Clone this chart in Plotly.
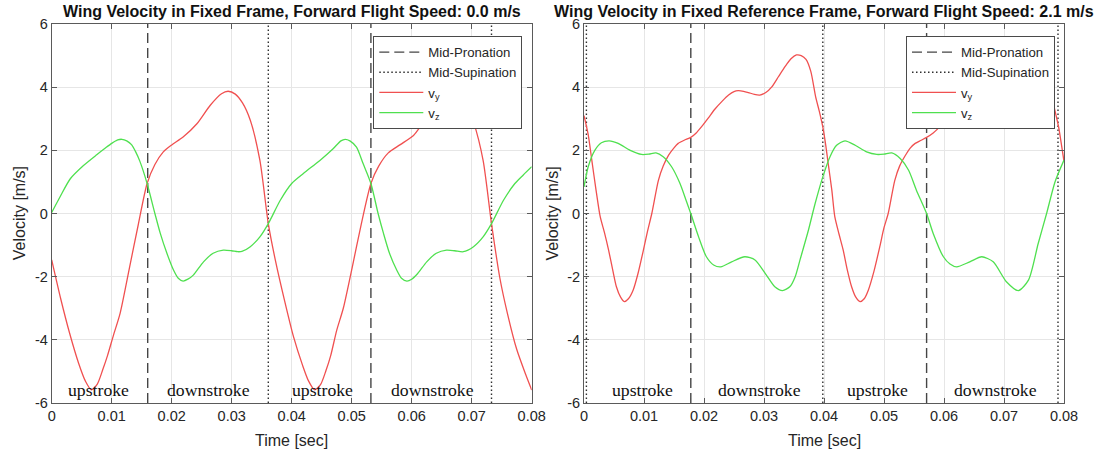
import plotly.graph_objects as go

W, H = 1102, 455

# ---------------- stroke reversal times [s] ----------------
pron_L = [0.0160, 0.0532]
sup_L = [0.0361, 0.0733]
pron_R = [0.0178, 0.0571]
sup_R = [0.0004, 0.0398, 0.0790]

# ---------------- hovering flight (0.0 m/s) ----------------
t_vy_L = [0.0000, 0.0015, 0.0030, 0.0045, 0.0056, 0.0066, 0.0076, 0.0085, 0.0093, 0.0103,
          0.0114, 0.0130, 0.0144, 0.0159, 0.0172, 0.0186, 0.0200, 0.0219, 0.0242, 0.0264,
          0.0283, 0.0294, 0.0306, 0.0318, 0.0331, 0.0347, 0.0361, 0.0373, 0.0388, 0.0403,
          0.0418, 0.0428, 0.0438, 0.0448, 0.0457, 0.0465, 0.0475, 0.0486, 0.0502, 0.0515,
          0.0532, 0.0545, 0.0561, 0.0581, 0.0603, 0.0614, 0.0636, 0.0655, 0.0666, 0.0678,
          0.0690, 0.0703, 0.0719, 0.0733, 0.0747, 0.0760, 0.0775, 0.0790, 0.0800]
vy_L = [-1.47, -2.70, -3.80, -4.75, -5.30, -5.58, -5.40, -4.95, -4.50, -3.85,
        -3.16, -1.68, -0.38, 0.95, 1.55, 1.95, 2.17, 2.42, 2.84, 3.42,
        3.79, 3.87, 3.78, 3.50, 2.95, 1.68, -0.32, -1.50, -2.75, -3.90,
        -4.80, -5.30, -5.58, -5.42, -4.98, -4.50, -3.70, -3.00, -1.60, -0.42,
        0.95, 1.50, 1.92, 2.18, 2.47, 2.74, 3.42, 3.79, 3.87, 3.78,
        3.50, 2.90, 1.68, -0.32, -2.05, -3.20, -4.30, -5.10, -5.59]

t_vz_L = [0.0000, 0.0014, 0.0031, 0.0053, 0.0075, 0.0090, 0.0100, 0.0110, 0.0117, 0.0125,
          0.0133, 0.0140, 0.0147, 0.0159, 0.0172, 0.0181, 0.0192, 0.0203, 0.0211, 0.0219,
          0.0227, 0.0236, 0.0253, 0.0269, 0.0286, 0.0300, 0.0310, 0.0317, 0.0331, 0.0347,
          0.0361, 0.0381, 0.0400, 0.0419, 0.0447, 0.0469, 0.0482, 0.0489, 0.0497, 0.0508,
          0.0519, 0.0532, 0.0544, 0.0553, 0.0563, 0.0575, 0.0583, 0.0592, 0.0600, 0.0610,
          0.0625, 0.0641, 0.0658, 0.0672, 0.0686, 0.0703, 0.0719, 0.0733, 0.0753, 0.0772,
          0.0786, 0.0800]
vz_L = [0.03, 0.53, 1.10, 1.52, 1.86, 2.08, 2.22, 2.33, 2.35, 2.30,
        2.18, 1.95, 1.65, 0.95, 0.00, -0.63, -1.26, -1.79, -2.05, -2.14,
        -2.08, -1.95, -1.53, -1.26, -1.16, -1.18, -1.21, -1.20, -1.05, -0.74,
        -0.32, 0.42, 0.95, 1.26, 1.68, 2.05, 2.30, 2.35, 2.30, 2.10,
        1.58, 0.95, 0.00, -0.63, -1.26, -1.79, -2.05, -2.14, -2.08, -1.90,
        -1.53, -1.26, -1.16, -1.18, -1.21, -1.05, -0.74, -0.32, 0.42, 0.95,
        1.22, 1.48]

# ---------------- forward flight (2.1 m/s) ----------------
t_vy_R = [0.0000, 0.0007, 0.0013, 0.0020, 0.0027, 0.0034, 0.0041, 0.0048, 0.0054, 0.0061,
          0.0067, 0.0074, 0.0082, 0.0090, 0.0099, 0.0106, 0.0113, 0.0124, 0.0132, 0.0141,
          0.0150, 0.0157, 0.0167, 0.0178, 0.0187, 0.0196, 0.0207, 0.0218, 0.0230, 0.0241,
          0.0250, 0.0257, 0.0266, 0.0274, 0.0284, 0.0293, 0.0303, 0.0313, 0.0324, 0.0335,
          0.0345, 0.0354, 0.0362, 0.0370, 0.0378, 0.0386, 0.0392, 0.0398, 0.0403, 0.0407,
          0.0413, 0.0418, 0.0425, 0.0432, 0.0439, 0.0446, 0.0453, 0.0460, 0.0467, 0.0474,
          0.0483, 0.0493, 0.0500, 0.0507, 0.0518, 0.0526, 0.0535, 0.0544, 0.0552, 0.0562,
          0.0571, 0.0582, 0.0593, 0.0604, 0.0611, 0.0623, 0.0634, 0.0643, 0.0650, 0.0659,
          0.0667, 0.0677, 0.0686, 0.0696, 0.0706, 0.0717, 0.0728, 0.0738, 0.0747, 0.0755,
          0.0763, 0.0771, 0.0779, 0.0785, 0.0791, 0.0796, 0.0800]
vy_R = [3.10, 2.50, 1.69, 0.75, -0.10, -0.60, -1.16, -1.80, -2.32, -2.65,
        -2.79, -2.70, -2.42, -1.90, -1.16, -0.55, 0.00, 1.05, 1.50, 1.85,
        2.08, 2.22, 2.32, 2.41, 2.55, 2.75, 3.02, 3.30, 3.55, 3.75,
        3.86, 3.89, 3.87, 3.83, 3.77, 3.75, 3.83, 4.01, 4.33, 4.65,
        4.90, 5.02, 5.00, 4.88, 4.50, 3.70, 3.25, 2.74, 2.15, 1.58,
        0.75, -0.10, -0.65, -1.16, -1.80, -2.32, -2.65, -2.79, -2.70, -2.42,
        -1.85, -1.05, -0.45, 0.00, 1.05, 1.50, 1.82, 2.08, 2.22, 2.32,
        2.41, 2.55, 2.75, 3.02, 3.30, 3.55, 3.75, 3.86, 3.89, 3.87,
        3.83, 3.77, 3.75, 3.83, 4.01, 4.33, 4.65, 4.90, 5.02, 5.00,
        4.88, 4.50, 3.75, 3.25, 2.74, 2.15, 1.65]

t_vz_R = [0.0000, 0.0007, 0.0018, 0.0029, 0.0042, 0.0057, 0.0077, 0.0096, 0.0108, 0.0120,
          0.0132, 0.0146, 0.0160, 0.0171, 0.0178, 0.0191, 0.0204, 0.0216, 0.0228, 0.0246,
          0.0268, 0.0285, 0.0304, 0.0318, 0.0331, 0.0343, 0.0352, 0.0360, 0.0374, 0.0385,
          0.0398, 0.0410, 0.0421, 0.0435, 0.0452, 0.0471, 0.0488, 0.0500, 0.0513, 0.0527,
          0.0541, 0.0554, 0.0571, 0.0582, 0.0599, 0.0610, 0.0621, 0.0643, 0.0663, 0.0682,
          0.0704, 0.0724, 0.0741, 0.0757, 0.0771, 0.0785, 0.0800]
vz_R = [0.84, 1.48, 2.00, 2.24, 2.30, 2.22, 2.00, 1.87, 1.88, 1.92,
        1.80, 1.48, 0.95, 0.37, 0.00, -0.74, -1.37, -1.63, -1.69, -1.53,
        -1.37, -1.47, -1.95, -2.32, -2.44, -2.32, -2.00, -1.47, -0.53, 0.30,
        1.16, 1.80, 2.16, 2.30, 2.16, 1.95, 1.87, 1.88, 1.92, 1.74,
        1.37, 0.74, 0.00, -0.63, -1.37, -1.60, -1.69, -1.53, -1.37, -1.53,
        -2.16, -2.44, -2.10, -0.95, 0.00, 1.00, 1.69]

# ---------------- phase labels ----------------
stroke_names = ["upstroke", "downstroke", "upstroke", "downstroke"]
stroke_t_L = [0.0078, 0.0262, 0.0451, 0.0635]
stroke_t_R = [0.0098, 0.0293, 0.0489, 0.0685]
stroke_v = -5.6

# ---------------- axes ----------------
x_ticks = [0, 0.01, 0.02, 0.03, 0.04, 0.05, 0.06, 0.07, 0.08]
x_ticktext = ["0", "0.01", "0.02", "0.03", "0.04", "0.05", "0.06", "0.07", "0.08"]
y_ticks = [-6, -4, -2, 0, 2, 4, 6]
y_ticktext = ["-6", "-4", "-2", "0", "2", "4", "6"]

titles = ["Wing Velocity in Fixed Frame, Forward Flight Speed: 0.0 m/s",
          "Wing Velocity in Fixed Reference Frame, Forward Flight Speed: 2.1 m/s"]

# plot-area placement in pixels
left_px = [(51.7, 531.7), (584.0, 1064.0)]
top_px, bottom_px = 24.0, 403.0

SANS = "Liberation Sans, Arial, sans-serif"
SERIF = "Liberation Serif, Times New Roman, serif"
RED = "#f05050"
GREEN = "#4fe04f"


def px_x(p):
    return p / W


def px_y(p):
    return 1 - p / H


def vlines(times):
    xs, ys = [], []
    for t in times:
        xs += [t, t, None]
        ys += [-6, 6, None]
    return xs, ys


fig = go.Figure()

panels = [
    (pron_L, sup_L, t_vy_L, vy_L, t_vz_L, vz_L, "x", "y", "legend"),
    (pron_R, sup_R, t_vy_R, vy_R, t_vz_R, vz_R, "x2", "y2", "legend2"),
]

for pron, sup, tvy, vy, tvz, vz, xa, ya, lg in panels:
    xs, ys = vlines(pron)
    fig.add_trace(go.Scatter(x=xs, y=ys, mode="lines", name="Mid-Pronation",
                             line=dict(color="#454545", width=1.4, dash="10px,5px"),
                             xaxis=xa, yaxis=ya, legend=lg, hoverinfo="skip"))
    xs, ys = vlines(sup)
    fig.add_trace(go.Scatter(x=xs, y=ys, mode="lines", name="Mid-Supination",
                             line=dict(color="#303030", width=1.4, dash="1.5px,2.5px"),
                             xaxis=xa, yaxis=ya, legend=lg, hoverinfo="skip"))
    fig.add_trace(go.Scatter(x=tvy, y=vy, mode="lines", name="v<sub>y</sub>",
                             line=dict(color=RED, width=1.3, shape="spline", smoothing=0.7),
                             xaxis=xa, yaxis=ya, legend=lg))
    fig.add_trace(go.Scatter(x=tvz, y=vz, mode="lines", name="v<sub>z</sub>",
                             line=dict(color=GREEN, width=1.3, shape="spline", smoothing=0.7),
                             xaxis=xa, yaxis=ya, legend=lg))

axis_common = dict(showline=True, linecolor="#5a5a5a", linewidth=1, mirror="ticks",
                   ticks="inside", ticklen=5, tickcolor="#5a5a5a", showgrid=True,
                   gridcolor="#e6e6e6", gridwidth=1, zeroline=False,
                   tickfont=dict(family=SANS, size=14.5, color="#262626"))

y_dom = [px_y(bottom_px), px_y(top_px)]
for i, (l, r) in enumerate(left_px):
    sfx = "" if i == 0 else "2"
    fig.layout["xaxis" + sfx] = dict(axis_common, domain=[px_x(l), px_x(r)], range=[0, 0.08],
                                     tickvals=x_ticks, ticktext=x_ticktext,
                                     anchor="y" + sfx, automargin=False)
    fig.layout["yaxis" + sfx] = dict(axis_common, domain=y_dom, range=[-6, 6],
                                     tickvals=y_ticks, ticktext=y_ticktext,
                                     anchor="x" + sfx, automargin=False)

legend_common = dict(xanchor="left", yanchor="top", bgcolor="white",
                     bordercolor="#4a4a4a", borderwidth=1, tracegroupgap=0,
                     itemwidth=44,
                     font=dict(family=SANS, size=13.2, color="#262626"))
fig.update_layout(
    width=W, height=H, autosize=False,
    margin=dict(l=0, r=0, t=0, b=0),
    paper_bgcolor="white", plot_bgcolor="white",
    showlegend=True,
    legend=dict(legend_common, x=px_x(373.3), y=px_y(36)),
    legend2=dict(legend_common, x=px_x(906), y=px_y(36)),
)

annotations = []
for i, (l, r) in enumerate(left_px):
    xa = "x" if i == 0 else "x2"
    ya = "y" if i == 0 else "y2"
    cx = (l + r) / 2
    annotations.append(dict(text="<b>" + titles[i] + "</b>", xref="paper", yref="paper",
                            x=px_x(cx), y=px_y(11), xanchor="center", yanchor="middle",
                            showarrow=False, font=dict(family=SANS, size=16, color="#111111")))
    annotations.append(dict(text="Time [sec]", xref="paper", yref="paper",
                            x=px_x(cx), y=px_y(440), xanchor="center", yanchor="middle",
                            showarrow=False, font=dict(family=SANS, size=16, color="#262626")))
    annotations.append(dict(text="Velocity [m/s]", xref="paper", yref="paper",
                            x=px_x(l - 32), y=px_y((top_px + bottom_px) / 2), textangle=-90,
                            xanchor="center", yanchor="middle",
                            showarrow=False, font=dict(family=SANS, size=16, color="#262626")))
    stroke_t = stroke_t_L if i == 0 else stroke_t_R
    for name, t in zip(stroke_names, stroke_t):
        annotations.append(dict(text=name, xref=xa, yref=ya, x=t, y=stroke_v,
                                xanchor="center", yanchor="middle", showarrow=False,
                                font=dict(family=SERIF, size=17.7, color="#111111")))
fig.update_layout(annotations=annotations)

fig.write_html("out.html")
